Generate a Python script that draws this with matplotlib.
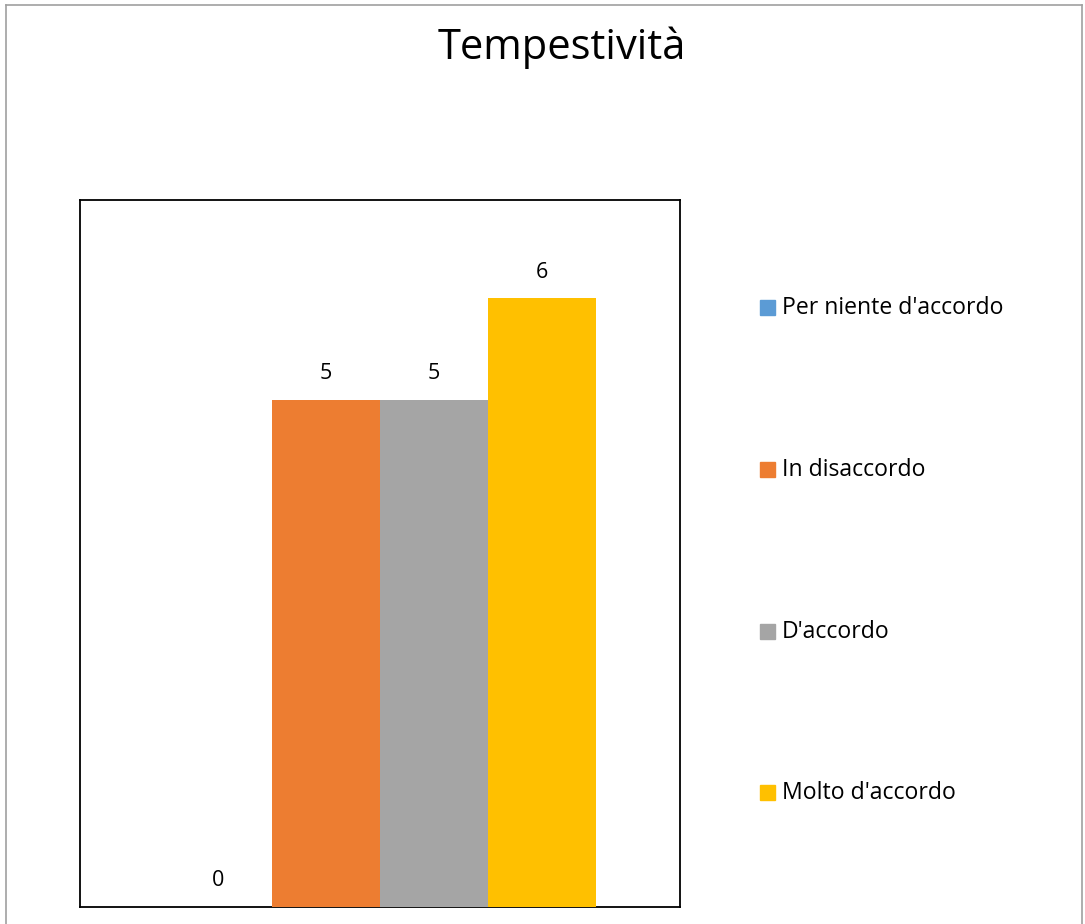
import matplotlib
matplotlib.use("Agg")
import matplotlib.pyplot as plt
from matplotlib.lines import Line2D

title = "Tempestività"
categories = ["Per niente d'accordo", "In disaccordo", "D'accordo", "Molto d'accordo"]
values = [0, 5, 5, 6]
colors = ["#5B9BD5", "#ED7D31", "#A5A5A5", "#FFC000"]

plt.rcParams['font.family'] = ['Open Sans', 'DejaVu Sans']

W, H = 1085, 924
fig = plt.figure(figsize=(W / 100, H / 100), dpi=100)

# outer chart border
for xs, ys in [([6, 6], [0, H - 5]), ([6, 1082], [H - 5, H - 5]), ([1082, 1082], [0, H - 5])]:
    fig.add_artist(Line2D([x / W for x in xs], [y / H for y in ys], color="#A0A0A0", lw=1.2))

ax = fig.add_axes([80 / W, (H - 907) / H, 600 / W, 707 / H])
n = len(values)
bw = 0.18
xpos = [(i - (n - 1) / 2) * bw for i in range(n)]
ax.bar(xpos, values, width=bw, color=colors, zorder=3)
for x, v in zip(xpos, values):
    ax.annotate(str(v), (x, v), xytext=(0, 26), textcoords="offset pixels",
                ha="center", va="center", fontsize=15.5)
ax.set_xlim(-0.5, 0.5)
ax.set_ylim(0, 6.97)
ax.set_xticks([])
ax.set_yticks([])
for s in ax.spines.values():
    s.set_linewidth(1.3)
    s.set_color("black")

fig.text(562 / W, 1 - 48 / H, title, ha="center", va="center", fontsize=30)

# legend entries
legend_y = [308, 470, 632, 793]
for lab, c, y in zip(categories, colors, legend_y):
    fig.add_artist(plt.Rectangle((760 / W, 1 - (y + 7) / H), 15 / W, 15 / H, color=c))
    fig.text(782 / W, 1 - y / H, lab, ha="left", va="center", fontsize=16.6)

fig.savefig("out.png", dpi=100)
